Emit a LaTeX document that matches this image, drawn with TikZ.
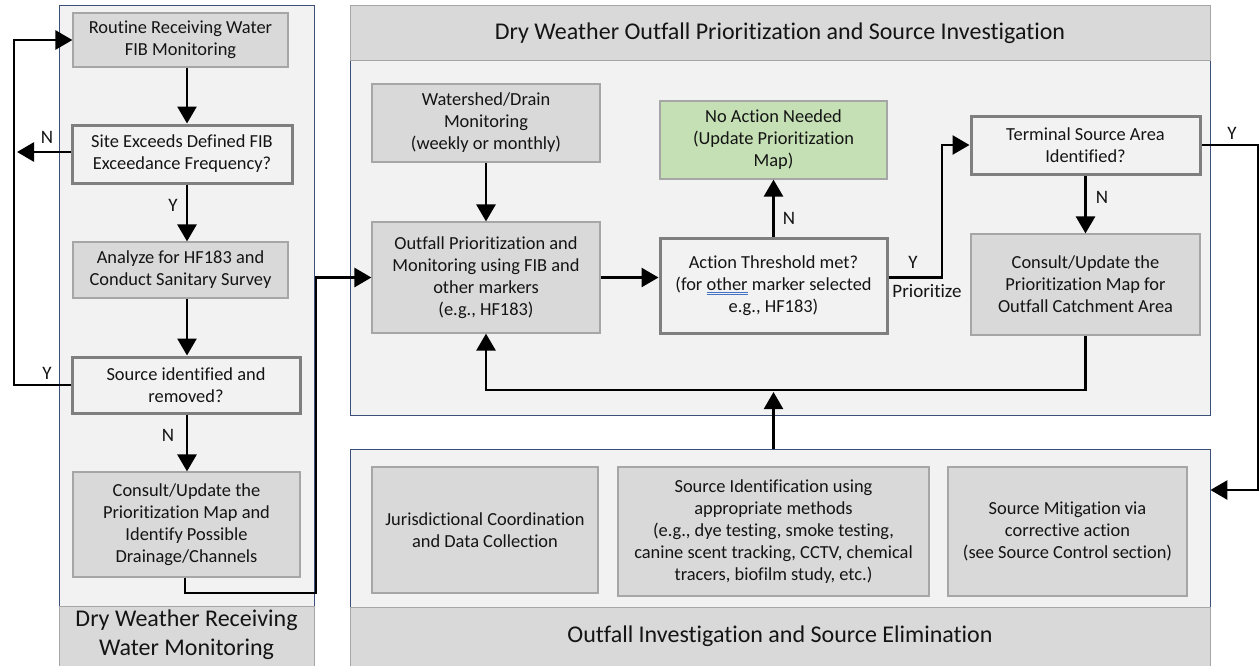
\documentclass[tikz,border=0pt]{standalone}
\usepackage{fontspec}
\setmainfont[Ligatures=NoCommon]{Carlito}
\usetikzlibrary{arrows.meta,calc,fit}
\definecolor{panelbg}{HTML}{F2F2F2}
\definecolor{panelbd}{HTML}{3B5078}
\definecolor{bandbg}{HTML}{D9D9D9}
\definecolor{boxbd}{HTML}{A6A6A6}
\definecolor{decbd}{HTML}{7F7F7F}
\definecolor{greenbg}{HTML}{C5E0B4}
\definecolor{txt}{HTML}{141414}
\definecolor{ulblue}{HTML}{4472C4}
\newcommand\dblul[1]{\setbox0\hbox{#1}\rlap{\textcolor{ulblue}{\rule[-2.6pt]{\wd0}{0.7pt}}}\rlap{\textcolor{ulblue}{\rule[-4.8pt]{\wd0}{0.7pt}}}#1}
\begin{document}
\begin{tikzpicture}[x=1pt,y=-1pt,
  every node/.style={text=txt, font=\fontsize{18.4}{22}\selectfont, align=center, inner sep=0pt},
  panel/.style={draw=panelbd, line width=0.8pt, fill=panelbg, inner sep=0pt},
  band/.style={draw=boxbd, line width=0.8pt, fill=bandbg, inner sep=0pt},
  titletext/.style={font=\fontsize{24}{29}\selectfont},
  procbox/.style={draw=boxbd, line width=1.2pt, fill=bandbg},
  decbox/.style={draw=decbd, line width=3pt, fill=panelbg},
  greenbox/.style={draw=boxbd, line width=1.2pt, fill=greenbg},
  conn/.style={draw=black, line width=2.8pt, line join=miter},
  arr/.style={conn, -{Triangle[length=17pt,width=19pt]}},
  lbl/.style={font=\fontsize{19}{22}\selectfont}
]
\useasboundingbox (0,0) rectangle (1260,665);
\fill[white] (0,0) rectangle (1260,665);

% panels
\node[panel, fit={(59,5) (314,666)}] (lp) {};
\node[band, fit={(59,606) (314,666)}] (lb) {};
\node[titletext] (lt) at (186.5,635) {Dry Weather Receiving\\Water Monitoring};

\node[panel, fit={(350,5) (1210,415)}] (cp) {};
\node[band, fit={(350,5) (1210,60)}] (cb) {};
\node[titletext] (ct) at (780,33) {Dry Weather Outfall Prioritization and Source Investigation};

\node[panel, fit={(350,449) (1210,666)}] (bp) {};
\node[band, fit={(350,607) (1210,666)}] (bb) {};
\node[titletext] (bt) at (780,636) {Outfall Investigation and Source Elimination};

% left column
\node[procbox, minimum width=215pt, minimum height=54pt] (r1) at (180.5,40) {Routine Receiving Water\\FIB Monitoring};
\node[decbox, minimum width=220pt, minimum height=58pt] (d1) at (182,154) {Site Exceeds Defined FIB\\Exceedance Frequency?};
\node[procbox, minimum width=215pt, minimum height=56pt] (a1) at (180.5,270) {Analyze for HF183 and\\Conduct Sanitary Survey};
\node[decbox, minimum width=228pt, minimum height=56pt] (d2) at (186,385) {Source identified and\\removed?};
\node[procbox, minimum width=227pt, minimum height=105pt] (c1) at (186.5,524.5) {Consult/Update the\\Prioritization Map and\\Identify Possible\\Drainage/Channels};

% center panel
\node[procbox, minimum width=228pt, minimum height=78pt] (w1) at (486,123) {Watershed/Drain\\Monitoring\\(weekly or monthly)};
\node[procbox, minimum width=228pt, minimum height=111pt] (o1) at (486,277.5) {Outfall Prioritization and\\Monitoring using FIB and\\other markers\\(e.g., HF183)};
\node[greenbox, minimum width=227pt, minimum height=78pt] (n1) at (773.5,140) {No Action Needed\\(Update Prioritization\\Map)};
\node[decbox, minimum width=227pt, minimum height=95pt] (d3) at (773.5,285.5) {Action Threshold met?\\(for \dblul{other} marker selected\\e.g., HF183)};
\node[decbox, minimum width=229pt, minimum height=58pt] (t1) at (1085.5,145) {Terminal Source Area\\Identified?};
\node[procbox, minimum width=229pt, minimum height=101pt] (c2) at (1085.5,284.5) {Consult/Update the\\Prioritization Map for\\Outfall Catchment Area};

% bottom panel
\node[procbox, minimum width=226pt, minimum height=126pt] (j1) at (485,530) {Jurisdictional Coordination\\and Data Collection};
\node[procbox, minimum width=311pt, minimum height=129pt] (s1) at (773.5,531.5) {Source Identification using\\appropriate methods\\(e.g., dye testing, smoke testing,\\canine scent tracking, CCTV, chemical\\tracers, biofilm study, etc.)};
\node[procbox, minimum width=239pt, minimum height=129pt] (m1) at (1067.5,531.5) {Source Mitigation via\\corrective action\\(see Source Control section)};

% helper coordinates
\coordinate (colx) at (187,0);
\coordinate (lx) at (14,0);
\coordinate (nend) at (17,152);
\coordinate (jx) at (316,593);
\coordinate (py) at (942,0);
\coordinate (rx) at (1258,0);
\coordinate (ry) at (0,490);
\coordinate (rety) at (0,390);

% left connectors
\draw[arr] (r1.south -| colx) -- (d1.north -| colx);
\draw[arr] (d1.south -| colx) -- (a1.north -| colx);
\draw[arr] (a1.south -| colx) -- (d2.north -| colx);
\draw[arr] (d2.south -| colx) -- (c1.north -| colx);
\draw[arr] (d2.west) -- (d2.west -| lx) -- (r1.west -| lx) -- (r1.west);
\draw[arr] (d1.west |- nend) -- (nend);
\draw[arr] (c1.south -| 185,0) -- (185,0 |- jx) -- (jx) -- (jx |- o1.west) -- (o1.west);

\node[lbl] (lN1) at (47,137) {N};
\node[lbl] (lY1) at (47,373) {Y};
\node[lbl] (lY2) at (173,205) {Y};
\node[lbl] (lN2) at (168,435) {N};

% center connectors
\draw[arr] (w1.south) -- (o1.north);
\draw[arr] (o1.east) -- (o1.east -| d3.west);
\draw[arr] (d3.north) -- (n1.south);
\draw[arr] (o1.east -| d3.east) -- (o1.east -| py) -- (py |- t1.west) -- (t1.west);
\draw[arr] (t1.south) -- (c2.north);
\draw[arr] (t1.east) -- (t1.east -| rx) -- (rx |- ry) -- (bp.east |- ry);
\draw[arr] (c2.south) -- (c2.south |- rety) -- (o1.south |- rety) -- (o1.south);
\draw[arr, line width=2.3pt] (bp.north -| s1.north) -- ($(s1.north |- rety)+(0,2)$);

\node[lbl] (cN1) at (789,218) {N};
\node[lbl] (cY1) at (913,262) {Y};
\node[lbl] (cP) at (927,291) {Prioritize};
\node[lbl] (cN2) at (1102,197) {N};
\node[lbl] (cY2) at (1232,133) {Y};
\end{tikzpicture}
\end{document}
